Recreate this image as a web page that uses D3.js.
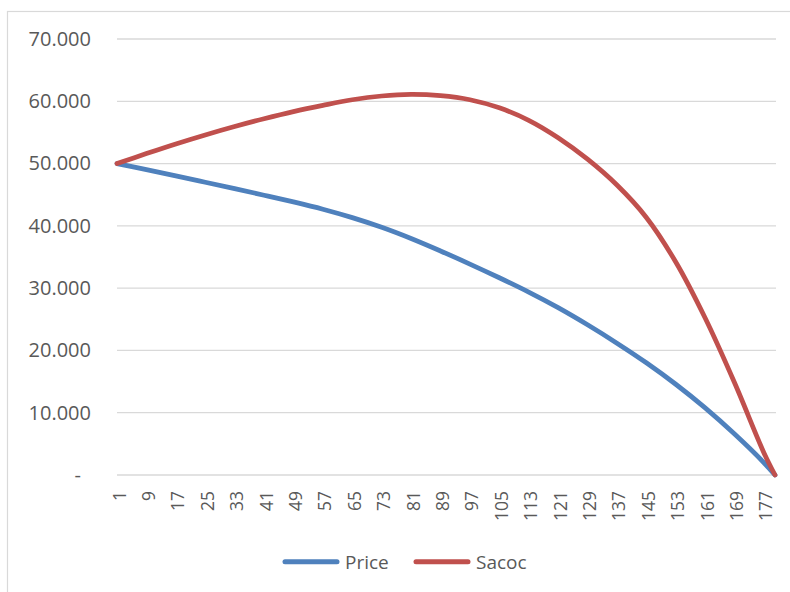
<!DOCTYPE html>
<html>
<head>
<meta charset="utf-8">
<script src="https://cdn.jsdelivr.net/npm/d3@7"></script>
<style>
  body { margin: 0; background: #fff; }
  text { font-family: "Open Sans", "Noto Sans", sans-serif; fill: #595959; }
</style>
</head>
<body>
<svg id="chart" width="790" height="592"></svg>
<script>
// Month index on the horizontal axis (1..180)
const categories = d3.range(1, 181);
// Labelled months on the horizontal axis
const xTickLabels = [1, 9, 17, 25, 33, 41, 49, 57, 65, 73, 81, 89, 97, 105, 113, 121, 129, 137, 145, 153, 161, 169, 177];
// Vertical axis ticks
const yTicks = [0, 10000, 20000, 30000, 40000, 50000, 60000, 70000];

// Balances sampled along the schedule
const sampleMonths = [1, 9, 17, 25, 33, 41, 49, 57, 65, 73, 81, 89, 97, 105, 113, 121, 129, 137, 145, 153, 161, 169, 177, 180];
const price = [50000, 49020, 48020, 47000, 45970, 44920, 43840, 42670, 41320, 39770, 37970, 35970, 33870, 31670, 29370, 26870, 24120, 21170, 18020, 14570, 10770, 6570, 1970, 0];
const sacoc = [50000, 51600, 53150, 54600, 55950, 57200, 58350, 59350, 60250, 60850, 61100, 60900, 60250, 58950, 56950, 54150, 50700, 46550, 41350, 34200, 25200, 14800, 3550, 0];

const seriesNames = ["Price", "Sacoc"];
const seriesColors = ["#4F81BD", "#C0504D"];
const seriesValues = [price, sacoc];

const svg = d3.select("#chart");

// Chart frame
svg.append("rect")
  .attr("x", 7.5).attr("y", 11.5)
  .attr("width", 800).attr("height", 600)
  .attr("fill", "none").attr("stroke", "#d9d9d9").attr("stroke-width", 1.2);

const x = d3.scalePoint().domain(categories).range([117, 775]);
const y = d3.scaleLinear().domain([0, 70000]).range([475, 39]);

// Horizontal gridlines
svg.append("g").selectAll("line")
  .data(yTicks)
  .join("line")
  .attr("x1", 117).attr("x2", 776)
  .attr("y1", d => y(d)).attr("y2", d => y(d))
  .attr("stroke", "#d9d9d9").attr("stroke-width", 1.3);

// Vertical axis labels
const fmt = d => d === 0 ? "-" : d3.format(",")(d).replace(/,/g, ".");
const yAxis = svg.append("g")
  .attr("transform", "translate(117,0)")
  .call(d3.axisLeft(y).tickValues(yTicks).tickFormat(fmt).tickSize(0).tickPadding(26));
yAxis.select(".domain").remove();
yAxis.selectAll("text")
  .style("font-family", "'Open Sans', sans-serif")
  .style("font-size", "20px")
  .attr("fill", "#595959")
  .attr("dx", d => d === 0 ? -10 : 0);

// Horizontal axis labels (rotated)
const xAxis = svg.append("g")
  .attr("transform", "translate(0,475)")
  .call(d3.axisBottom(x).tickValues(xTickLabels).tickSize(0));
xAxis.select(".domain").remove();
xAxis.selectAll("text")
  .style("font-family", "'Open Sans', sans-serif")
  .style("font-size", "17.5px")
  .attr("fill", "#595959")
  .attr("transform", "rotate(-90)")
  .attr("text-anchor", "end")
  .attr("x", -16)
  .attr("y", 0)
  .attr("dy", "8px");

// Series lines
const line = d3.line()
  .x(d => x(d[0]))
  .y(d => y(d[1]))
  .curve(d3.curveCatmullRom.alpha(0.5));

seriesValues.forEach((vals, i) => {
  svg.append("path")
    .datum(sampleMonths.map((m, j) => [m, vals[j]]))
    .attr("fill", "none")
    .attr("stroke", seriesColors[i])
    .attr("stroke-width", 4.75)
    .attr("stroke-linejoin", "round")
    .attr("stroke-linecap", "round")
    .attr("d", line);
});

// Legend
const legendX = [285, 416];
const legend = svg.append("g");
seriesNames.forEach((name, i) => {
  legend.append("line")
    .attr("x1", legendX[i]).attr("x2", legendX[i] + 52)
    .attr("y1", 561.7).attr("y2", 561.7)
    .attr("stroke", seriesColors[i])
    .attr("stroke-width", 5)
    .attr("stroke-linecap", "round");
  legend.append("text")
    .attr("x", legendX[i] + 60)
    .attr("y", 568.5)
    .style("font-size", "19px")
    .text(name);
});
</script>
</body>
</html>
